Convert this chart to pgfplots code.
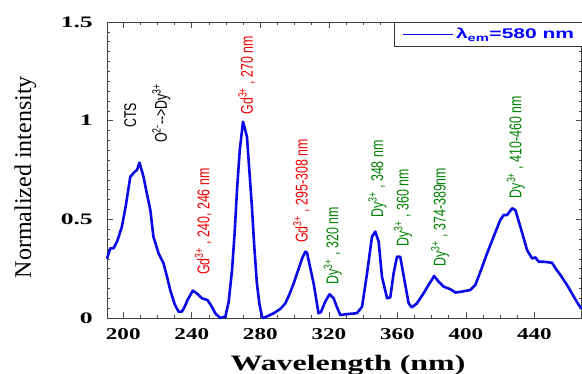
\documentclass[border=0pt]{standalone}
\usepackage{pgfplots}
\pgfplotsset{compat=1.18}
\usepackage{fontspec}
\setmainfont{Liberation Serif}
\newfontfamily\tickfontY[FakeStretch=1.6]{Liberation Serif}
\newfontfamily\tickfontX[FakeStretch=1.4]{Liberation Serif}
\newfontfamily\xlabfont[FakeStretch=1.45]{Liberation Serif}
\newfontfamily\lblfont[FakeStretch=0.73]{Liberation Sans}
\newfontfamily\legfont[FakeStretch=1.5]{Liberation Sans}
\definecolor{curve}{RGB}{10,10,230}
\definecolor{lred}{RGB}{240,0,0}
\definecolor{lgreen}{RGB}{0,128,0}
\begin{document}
\begin{tikzpicture}
\begin{axis}[
  scale only axis, width=474.5pt, height=296pt,
  xmin=190.5, xmax=467.5, ymin=0, ymax=1.5,
  xtick={200,240,...,440}, minor x tick num=3,
  ytick={0,0.5,1,1.5}, minor y tick num=9,
  tick align=inside, major tick length=6pt, minor tick length=3pt,
  every tick/.style={black!70, line width=0.6pt},
  axis line style={black!75, line width=0.8pt},
  /pgf/number format/assume math mode=true,
  xticklabel style={font=\fontsize{16.5}{18}\tickfontX\bfseries, inner sep=0pt, anchor=north, yshift=-10pt},
  yticklabel style={font=\fontsize{16}{18}\tickfontY\bfseries, inner sep=0pt, anchor=east, xshift=-14pt},
  xlabel={Wavelength (nm)},
  xlabel style={font=\fontsize{22}{24}\xlabfont\bfseries, at={(rel axis cs:0.508,0)}, anchor=base, yshift=-52pt, inner sep=0pt},
  ylabel={Normalized intensity},
  ylabel style={font=\fontsize{24}{26}\selectfont, at={(rel axis cs:-0.172,0.476)}, anchor=center, inner sep=0pt},
  legend image code/.code={\draw[#1, line width=1.6pt] (0pt,0pt) -- (50pt,0pt);},
  legend style={at={(rel axis cs:0.605,1)}, anchor=north west, draw=black!80, line width=0.8pt,
    font=\fontsize{14}{16}\legfont\bfseries, text=blue, inner xsep=8pt, inner ysep=4pt},
  clip=false,
]
\addplot[curve, line width=2.6pt, line join=round] coordinates {
(190.5,0.30) (192.4,0.353) (194.3,0.353) (196.5,0.39) (199.2,0.463) (201.5,0.57)
(204.1,0.716) (205.1,0.725) (206.5,0.74) (208,0.75) (209.5,0.787) (211.8,0.716)
(213.8,0.63) (215.8,0.547) (217.6,0.412) (220.6,0.328) (223.5,0.277) (225.5,0.21)
(227.4,0.142) (230,0.07) (232.3,0.032) (234.2,0.032) (236,0.06) (237.5,0.091)
(240.6,0.139) (242.9,0.125) (245.9,0.10) (249.2,0.091) (251.5,0.06) (253.7,0.024)
(256.6,0.0) (259.6,0.007) (261.5,0.08) (263.5,0.243) (265,0.43) (266.4,0.649)
(268,0.85) (269.9,0.995) (272.2,0.919) (273.5,0.76) (275.1,0.564) (276.5,0.36)
(278,0.176) (279.5,0.07) (281,0.007) (281.9,0.0) (287.8,0.024) (291.7,0.046)
(294.6,0.074) (297,0.12) (299.5,0.176) (302,0.24) (304.4,0.302) (306.3,0.336)
(307.3,0.33) (309,0.26) (311.1,0.176) (314,0.024) (315.4,0.03) (317.9,0.083)
(320.4,0.12) (322.8,0.10) (324.5,0.06) (326.7,0.015) (330.6,0.02) (336.4,0.024)
(339.4,0.057) (342.3,0.226) (345.2,0.412) (347.1,0.438) (349.1,0.387) (351,0.21)
(354,0.10) (355.9,0.105) (357.8,0.226) (359.8,0.311) (361.7,0.31) (364.1,0.193)
(366.6,0.074) (368.5,0.054) (371.4,0.074) (375.3,0.125) (378.2,0.167) (381.5,0.213)
(384.1,0.184) (387,0.159) (390.9,0.146) (393.9,0.129) (397.8,0.134) (402.6,0.142)
(405.5,0.167) (408.5,0.235) (412.4,0.328) (416.2,0.412) (420.1,0.497) (422.1,0.522)
(424.1,0.522) (427,0.556) (428.9,0.547) (431.8,0.463) (435.7,0.345) (438.6,0.302)
(440.6,0.307) (442.5,0.285) (445.4,0.285) (450.3,0.28) (452.3,0.252) (455.2,0.218)
(459.1,0.167) (463,0.108) (465.9,0.066) (467.5,0.049)
};
\addlegendentry{λ\textsubscript{em}=580 nm\hspace*{6pt}}
\begin{scope}[every node/.style={rotate=90, anchor=west, inner sep=0pt, font=\fontsize{17}{19}\lblfont}]
\node[text=black] at (axis cs:204.1,0.963) {CTS};
\node[text=black] at (axis cs:222.2,0.887) {O\textsuperscript{2-}-\kern0pt-\kern0pt>Dy\textsuperscript{3+}};
\node[text=lred] at (axis cs:246.6,0.218) {Gd\textsuperscript{3+} , 240, 246 nm};
\node[text=lred] at (axis cs:272,1.03) {Gd\textsuperscript{3+} , 270 nm};
\node[text=lred] at (axis cs:304,0.38) {Gd\textsuperscript{3+} , 295-308 nm};
\node[text=lgreen] at (axis cs:322.3,0.17) {Dy\textsuperscript{3+} , 320 nm};
\node[text=lgreen] at (axis cs:348.4,0.507) {Dy\textsuperscript{3+} , 348 nm};
\node[text=lgreen] at (axis cs:363.4,0.361) {Dy\textsuperscript{3+} , 360 nm};
\node[text=lgreen] at (axis cs:384.9,0.26) {Dy\textsuperscript{3+} , 374-389nm};
\node[text=lgreen] at (axis cs:429.2,0.607) {Dy\textsuperscript{3+} , 410-460 nm};
\end{scope}
\end{axis}
\pgfresetboundingbox
\useasboundingbox ([xshift=-107pt,yshift=-55pt]current axis.south west) rectangle ([xshift=0.5pt,yshift=22pt]current axis.north east);
\end{tikzpicture}
\end{document}
